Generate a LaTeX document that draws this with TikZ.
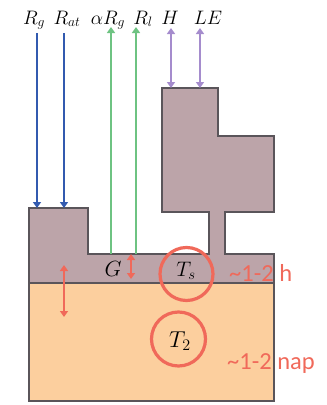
\RequirePackage{fix-cm}
\documentclass[tikz,border=0pt]{standalone}
\usepackage{fontspec}
\newfontfamily\redfont{Carlito}
\usetikzlibrary{arrows.meta}
\definecolor{cblue}{RGB}{50,90,175}
\definecolor{cgreen}{RGB}{110,195,130}
\definecolor{cpurple}{RGB}{165,140,205}
\definecolor{cmauve}{RGB}{188,164,169}
\definecolor{corange}{RGB}{252,207,158}
\definecolor{cline}{RGB}{90,85,90}
\definecolor{cred}{RGB}{240,105,90}
\tikzset{
  flux/.style={line width=2.4pt,-{Triangle[length=6pt,width=8pt]}},
  dflux/.style={line width=2.4pt,{Triangle[length=6pt,width=8pt]}-{Triangle[length=6pt,width=8pt]}},
  toplabel/.style={anchor=base,inner sep=0pt,font=\fontsize{19.5}{22}\selectfont},
  redlabel/.style={anchor=base west,inner sep=0pt,text=cred,font=\redfont\fontsize{24.5}{28}\selectfont},
  ring/.style={draw=cred,line width=3.2pt,circle,inner sep=0pt},
  body/.style={draw=cline,line width=1.1pt}
}
\begin{document}
\begin{tikzpicture}[x=1pt,y=-1pt]
\useasboundingbox (0,0) rectangle (327,405);
% soil
\draw[body,fill=corange] (29,283) rectangle (274,401);
% surface layer with canopy
\draw[body,fill=cmauve] (29,208) -- (88,208) -- (88,254) -- (209,254) -- (209,212)
  -- (162,212) -- (162,88) -- (218,88) -- (218,136) -- (274,136) -- (274,212)
  -- (225,212) -- (225,254) -- (274,254) -- (274,283) -- (29,283) -- cycle;
% top labels
\node[toplabel] (rg) at (34,24) {$R_g$};
\node[toplabel] (rat) at (67,24) {$R_{at}$};
\node[toplabel] (arg) at (108,24) {$\alpha R_g$};
\node[toplabel] (rl) at (143,24) {$R_l$};
\node[toplabel] (h) at (170,24) {$H$};
\node[toplabel] (le) at (208,24) {$LE$};
% anchor coordinates
\coordinate (b1t) at (37,33);  \coordinate (b1b) at (37,208);
\coordinate (b2t) at (64,33);  \coordinate (b2b) at (64,208);
\coordinate (g1b) at (111,254); \coordinate (g1t) at (111,27);
\coordinate (g2b) at (136,254); \coordinate (g2t) at (136,27);
\coordinate (p1t) at (171,28); \coordinate (p1b) at (171,88);
\coordinate (p2t) at (200,28); \coordinate (p2b) at (200,88);
\coordinate (r1t) at (131,254); \coordinate (r1b) at (131,279);
\coordinate (r2t) at (64,265); \coordinate (r2b) at (64,317);
% fluxes
\draw[flux,cblue] (b1t) -- (b1b);
\draw[flux,cblue] (b2t) -- (b2b);
\draw[flux,cgreen] (g1b) -- (g1t);
\draw[flux,cgreen] (g2b) -- (g2t);
\draw[dflux,cpurple] (p1t) -- (p1b);
\draw[dflux,cpurple] (p2t) -- (p2b);
\draw[dflux,cred] (r1t) -- (r1b);
\draw[dflux,cred] (r2t) -- (r2b);
% inner labels
\node[anchor=base,inner sep=0pt,font=\fontsize{22}{26}\selectfont] (g) at (113,276) {$G$};
\node[anchor=base,inner sep=0pt,font=\fontsize{21}{24}\selectfont] (ts) at (186,276) {$T_s$};
\node[anchor=base,inner sep=0pt,font=\fontsize{23}{26}\selectfont] (t2) at (180,347) {$T_2$};
% rings
\node[ring,minimum size=53pt] (c1) at (186.5,274) {};
\node[ring,minimum size=54pt] (c2) at (178.5,339) {};
% time scales
\node[redlabel] (th) at (229,281) {\char`\~1-2 h};
\node[redlabel] (tn) at (227,369) {\char`\~1-2 nap};
\end{tikzpicture}
\end{document}
